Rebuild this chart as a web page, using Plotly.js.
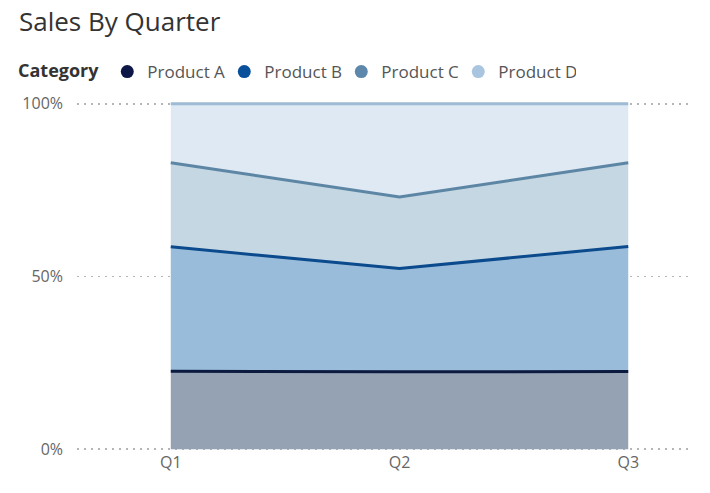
<!DOCTYPE html>
<html>
<head>
<meta charset="utf-8">
<script src="https://cdn.plot.ly/plotly-3.0.1.min.js"></script>
<style>
  html, body { margin: 0; padding: 0; background: #fff; }
  #chart { width: 710px; height: 493px; }
</style>
</head>
<body>
<div id="chart"></div>
<script>
// values (share of each quarter, %)
var quarters = ["Q1", "Q2", "Q3"];
var productA = [22.6, 22.4, 22.5];
var productB = [36.0, 29.9, 36.2];
var productC = [24.3, 20.7, 24.2];
var productD = [17.1, 27.0, 17.1];
var names = ["Product A", "Product B", "Product C", "Product D"];
var tickVals = [0, 50, 100];
var tickText = ["0%", "50%", "100%"];

var series = [productA, productB, productC, productD];
var lineColors = ["#0c1a40", "#0b4a8c", "#5d86a5", "#9fbad4"];
var fillColors = ["#95a2b3", "#98bcda", "#c4d7e3", "#dee9f3"];
var dotColors = ["#0d1847", "#0a4f9a", "#5e88ab", "#aac5df"];

var traces = [];
for (var i = 0; i < series.length; i++)
{
	traces.push({
		x: quarters,
		y: series[i],
		name: names[i],
		type: "scatter",
		mode: "lines",
		stackgroup: "one",
		groupnorm: "percent",
		line: {color: lineColors[i], width: 3},
		fillcolor: fillColors[i],
		showlegend: false,
		hoverinfo: "skip"
	});
}
// legend dots
for (var i = 0; i < names.length; i++)
{
	traces.push({
		x: [null],
		y: [null],
		name: names[i],
		type: "scatter",
		mode: "markers",
		marker: {color: dotColors[i], size: 13, symbol: "circle"},
		showlegend: true
	});
}

var layout = {
	width: 710,
	height: 493,
	margin: {l: 77, r: 20, t: 102, b: 42},
	paper_bgcolor: "#fff",
	plot_bgcolor: "#fff",
	font: {family: "Open Sans, Noto Sans, sans-serif", color: "#666"},
	title: {
		text: "Sales By Quarter",
		xref: "container", x: 19 / 710, xanchor: "left",
		yref: "container", y: 1 - 22 / 493, yanchor: "middle",
		font: {size: 26, color: "#333", family: "Open Sans, Noto Sans, sans-serif"}
	},
	showlegend: true,
	legend: {
		orientation: "h",
		xref: "container", x: 16 / 710, xanchor: "left",
		yref: "container", y: 1 - 72 / 493, yanchor: "middle",
		title: {text: "<b>Category</b>", font: {size: 18, color: "#333"}, side: "left"},
		font: {size: 17, color: "#555"},
		itemwidth: 30,
		entrywidth: 72,
		tracegroupgap: 0,
		traceorder: "normal"
	},
	xaxis: {
		type: "category",
		range: [-0.41, 2.27],
		showgrid: false,
		zeroline: false,
		showline: false,
		ticks: "",
		tickfont: {size: 16, color: "#666"}
	},
	yaxis: {
		range: [-0.5, 100.5],
		tickvals: tickVals,
		ticktext: tickText,
		showgrid: true,
		gridcolor: "#b5b5b5",
		griddash: "2px,5px",
		gridwidth: 1.6,
		zeroline: false,
		showline: false,
		ticks: "",
		ticklabelstandoff: 13,
		tickfont: {size: 16, color: "#666"}
	}
};

Plotly.newPlot("chart", traces, layout, {displayModeBar: false, staticPlot: true});
</script>
</body>
</html>
